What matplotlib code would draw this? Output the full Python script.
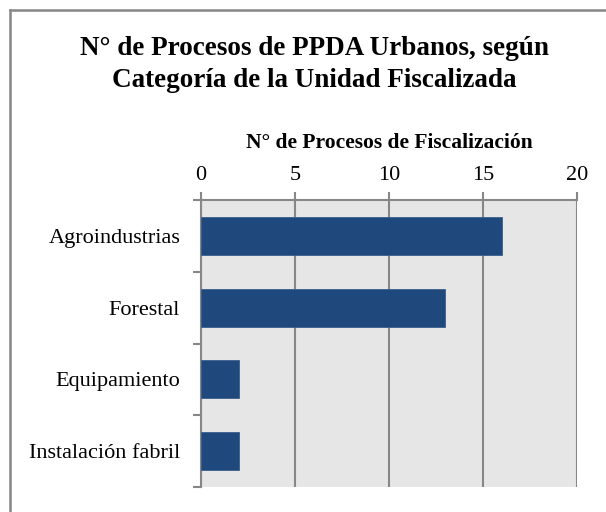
import matplotlib
matplotlib.use('Agg')
import matplotlib.pyplot as plt
from matplotlib.lines import Line2D
from matplotlib.ticker import FixedLocator

# Data
categories = ['Agroindustrias', 'Forestal', 'Equipamiento', 'Instalación fabril']
procesos = [16, 13, 2, 2]
x_ticks = [0, 5, 10, 15, 20]

title_lines = ['N° de Procesos de PPDA Urbanos, según',
               'Categoría de la Unidad Fiscalizada']
x_label = 'N° de Procesos de Fiscalización'

plt.rcParams['font.family'] = ['Liberation Serif', 'DejaVu Serif']

W, H = 606, 512
fig = plt.figure(figsize=(W / 100, H / 100), dpi=100)
fig.patch.set_facecolor('white')

# Axes placed in pixel terms
left, right, top, bottom = 201, 577, 200, 487
ax = fig.add_axes([left / W, 1 - bottom / H, (right - left) / W, (bottom - top) / H])
ax.set_facecolor('#E6E6E6')

gray = '#878787'
y = list(range(len(categories)))
ax.barh(y, procesos, height=0.53, color='#1F497D', edgecolor='#3A5F8E', linewidth=0.6, zorder=3)

ax.set_xlim(0, 20)
ax.set_ylim(len(categories) - 0.5, -0.5)

ax.xaxis.tick_top()
ax.xaxis.set_label_position('top')
ax.set_xticks(x_ticks)
ax.set_xticklabels([str(t) for t in x_ticks])
ax.tick_params(axis='x', which='major', length=6, width=1.5, color=gray, pad=5, labelsize=16)
ax.set_xlabel(x_label, fontsize=15.5, fontweight='bold', labelpad=13)

ax.set_yticks(y)
ax.set_yticklabels(categories)
ax.yaxis.set_minor_locator(FixedLocator([i - 0.5 for i in range(len(categories) + 1)]))
ax.tick_params(axis='y', which='major', length=0, pad=15, labelsize=16)
ax.tick_params(axis='y', which='minor', length=6, width=1.5, color=gray)

ax.grid(axis='x', color=gray, linewidth=1.5, zorder=1)
ax.set_axisbelow(True)

for side in ['right', 'bottom']:
    ax.spines[side].set_visible(False)
for side in ['top', 'left']:
    ax.spines[side].set_color(gray)
    ax.spines[side].set_linewidth(1.5)

# Title, one line at a time (baselines at 55 px and 87 px from the top)
for i, line in enumerate(title_lines):
    fig.text(314.5 / W, 1 - (55 + 32 * i) / H, line, ha='center', va='baseline',
             fontsize=19.5, fontweight='bold')

# Outer frame (only top and left edges visible)
fig.add_artist(Line2D([9.5 / W, 9.5 / W], [0, 1 - 10 / H], color=gray, linewidth=1.8,
                      transform=fig.transFigure))
fig.add_artist(Line2D([9.5 / W, 1], [1 - 10 / H, 1 - 10 / H], color=gray, linewidth=1.8,
                      transform=fig.transFigure))

plt.savefig('out.png', dpi=100)
